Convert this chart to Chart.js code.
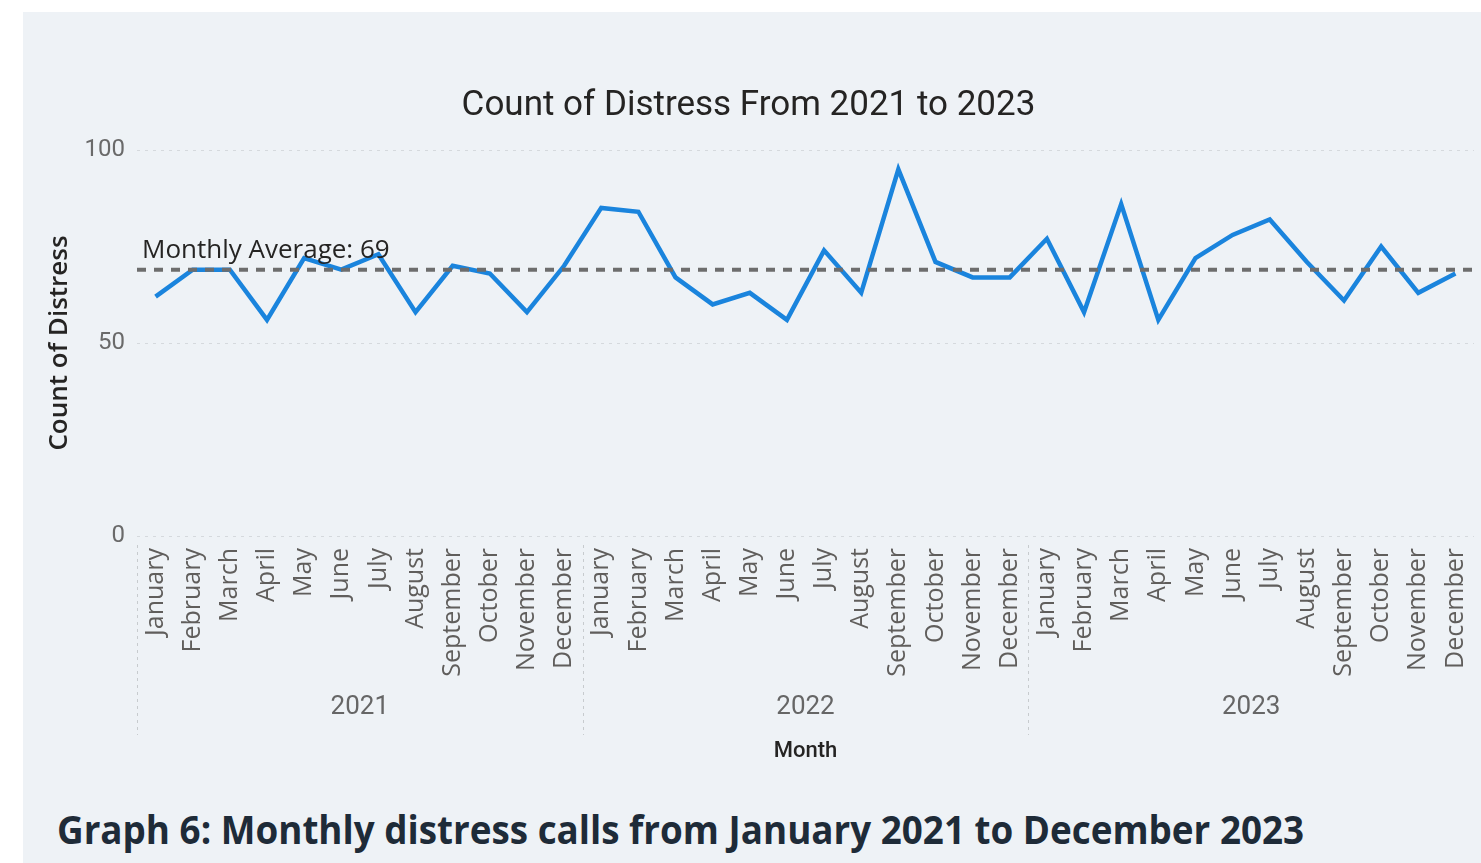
<!DOCTYPE html>
<html>
<head>
<meta charset="utf-8">
<title>Count of Distress From 2021 to 2023</title>
<script src="https://cdn.jsdelivr.net/npm/chart.js@4.4.1/dist/chart.umd.min.js"></script>
<style>
  html, body { margin: 0; padding: 0; background: #ffffff; }
  body { width: 1481px; height: 863px; position: relative; overflow: hidden; }
  .panel { position: absolute; left: 23px; top: 12px; right: 0; bottom: 0; background: #eef2f6; }
  .chart-box { position: absolute; left: 23px; top: 12px; width: 1458px; height: 764px; }
  .caption {
    position: absolute; left: 57px; top: 805px; margin: 0;
    font-family: 'Open Sans', sans-serif; font-weight: 700; font-size: 40px; line-height: 48px;
    color: #1e2b38; white-space: nowrap;
    transform: scaleX(0.92); transform-origin: 0 0;
  }
</style>
</head>
<body>
<div class="panel"></div>
<div class="chart-box"><canvas id="distressChart"></canvas></div>
<p class="caption">Graph 6: Monthly distress calls from January 2021 to December 2023</p>

<script>
// monthly counts, one array per year
const months = ['January', 'February', 'March', 'April', 'May', 'June',
  'July', 'August', 'September', 'October', 'November', 'December'];
const years = ['2021', '2022', '2023'];
const counts2021 = [62, 69, 69, 56, 72, 69, 73, 58, 70, 68, 58, 70];
const counts2022 = [85, 84, 67, 60, 63, 56, 74, 63, 95, 71, 67, 67];
const counts2023 = [77, 58, 86, 56, 72, 78, 82, 71, 61, 75, 63, 68];
const monthlyAverage = 69;
const yTicks = [0, 50, 100];

const monthLabels = years.flatMap(() => months);
const counts = [...counts2021, ...counts2022, ...counts2023];

const BLUE = '#1a84dd';
const TEXT_DARK = '#252423';
const TEXT_GREY = '#605e5c';

// dashed average line + its label, drawn over the series
const averageLine = {
  id: 'averageLine',
  afterDatasetsDraw(chart) {
    const { ctx, chartArea, scales } = chart;
    const y = scales.y.getPixelForValue(monthlyAverage);
    ctx.save();
    ctx.strokeStyle = '#6d6d6d';
    ctx.lineWidth = 4;
    ctx.setLineDash([9, 8]);
    ctx.beginPath();
    ctx.moveTo(chartArea.left, y);
    ctx.lineTo(chartArea.right, y);
    ctx.stroke();
    ctx.setLineDash([]);
    ctx.fillStyle = TEXT_DARK;
    ctx.font = "26px 'Open Sans', sans-serif";
    ctx.textAlign = 'left';
    ctx.textBaseline = 'alphabetic';
    ctx.fillText('Monthly Average: ' + monthlyAverage, chartArea.left + 5, y - 12);
    ctx.restore();
  }
};

// faint dotted dividers between the year groups under the axis
const yearDividers = {
  id: 'yearDividers',
  afterDraw(chart) {
    const { ctx, chartArea, scales } = chart;
    const x = scales.x;
    const step = x.getPixelForValue(1) - x.getPixelForValue(0);
    ctx.save();
    ctx.strokeStyle = 'rgba(0,0,0,0.16)';
    ctx.lineWidth = 1;
    ctx.setLineDash([3, 4]);
    years.forEach((yr, i) => {
      const px = Math.round(x.getPixelForValue(i * months.length) - step / 2) + 0.5;
      ctx.beginPath();
      ctx.moveTo(px, chartArea.bottom + 9);
      ctx.lineTo(px, chartArea.bottom + 199);
      ctx.stroke();
    });
    ctx.restore();
  }
};

Chart.defaults.font.family = "'Open Sans', sans-serif";

new Chart(document.getElementById('distressChart'), {
  type: 'line',
  data: {
    labels: monthLabels,
    datasets: [{
      label: 'Count of Distress',
      data: counts,
      borderColor: BLUE,
      borderWidth: 4.5,
      pointRadius: 0,
      tension: 0,
      fill: false,
      borderJoinStyle: 'miter'
    }]
  },
  options: {
    responsive: true,
    maintainAspectRatio: false,
    animation: false,
    layout: { padding: { left: 0, right: 7, top: 0, bottom: 0 } },
    plugins: {
      legend: { display: false },
      tooltip: { enabled: false },
      title: {
        display: true,
        text: 'Count of Distress From 2021 to 2023',
        color: TEXT_DARK,
        font: { family: "'Roboto', sans-serif", size: 35, weight: 'normal', lineHeight: 1.2 },
        padding: { top: 73, bottom: 23 }
      }
    },
    scales: {
      x: {
        type: 'category',
        offset: true,
        grid: { display: false, drawTicks: false },
        border: { display: false },
        ticks: {
          autoSkip: false,
          minRotation: 90,
          maxRotation: 90,
          padding: 12,
          color: TEXT_GREY,
          font: { size: 25 }
        },
        afterFit(scale) {
          scale.height = 140;
          // rotated labels don't need side room
          scale.paddingLeft = 0;
          scale.paddingRight = 0;
        }
      },
      x2: {
        type: 'category',
        position: 'bottom',
        labels: years,
        offset: true,
        grid: { display: false, drawTicks: false },
        border: { display: false },
        ticks: {
          padding: 16,
          color: '#666666',
          font: { family: "'Roboto', sans-serif", size: 26 }
        },
        title: {
          display: true,
          text: 'Month',
          color: TEXT_DARK,
          font: { family: "'Roboto', sans-serif", size: 22, weight: '500', lineHeight: 1.2 },
          padding: { top: 0, bottom: 11 }
        },
        afterFit(scale) {
          scale.height = 100;
          scale.paddingLeft = 0;
          scale.paddingRight = 0;
        }
      },
      y: {
        min: 0,
        max: 100,
        afterBuildTicks(scale) { scale.ticks = yTicks.map(v => ({ value: v })); },
        grid: { color: 'rgba(0,0,0,0.10)', lineWidth: 1, drawTicks: false },
        border: { display: false, dash: [3, 5] },
        ticks: {
          padding: 12,
          color: '#6a6a6a',
          font: { family: "'Roboto', sans-serif", size: 24 }
        },
        title: {
          display: true,
          text: 'Count of Distress',
          color: TEXT_DARK,
          font: { size: 26, weight: '600', lineHeight: 1.2 },
          padding: { top: 21, bottom: 0 }
        },
        afterFit(scale) { scale.width = 114; }
      }
    }
  },
  plugins: [averageLine, yearDividers]
});
</script>
</body>
</html>
